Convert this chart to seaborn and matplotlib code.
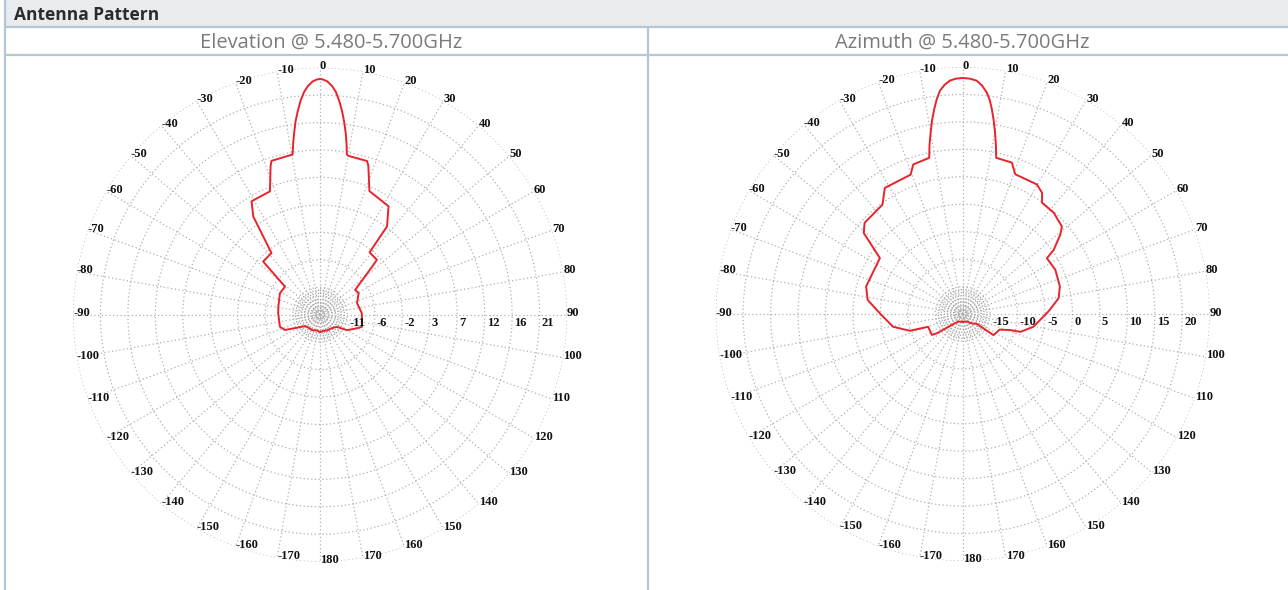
import numpy as np
import pandas as pd
import matplotlib
matplotlib.use("Agg")
import matplotlib.pyplot as plt
import matplotlib.transforms as mtransforms
from matplotlib.patches import Rectangle
from matplotlib.lines import Line2D
import seaborn as sns

sns.set_style("white")
plt.rcParams['font.family'] = ['Open Sans', 'DejaVu Sans']

# elevation pattern: angle (deg, clockwise from boresight), gain (dBi)
elev_angle = [-180, -168, -155, -143.7, -132, -127, -118, -113.6, -106.7, -88, -79, -61.9,
              -51.3, -46.9, -38.2, -34.2, -31.1, -22.1, -18.4, -17.5, -9.7, -8.9, -8.1, -7.2,
              -6.2, -5.2, -4.1, -3.0, -1.8, -0.8, 0, 0.8, 1.8, 3.0, 4.1, 5.2, 6.2, 7.2, 8.1,
              8.9, 9.5, 10.2, 17, 18, 21.8, 32.3, 37.2, 38.5,
              46, 47, 54.8, 60.8, 72.7, 88, 106, 110.7, 119.8, 125.7, 139.3, 155, 168.6, 180]
elev_gain = [-12.7, -12.9, -12.7, -12.7, -12.6, -12.4, -10.8, -9.2, -8.6, -8.6, -8.5, -8.0,
             -8.1, -2.6, -2.5, 4.2, 6.5, 6.6, 10.5, 11.3, 11.5, 13.3, 15.0, 16.9,
             18.6, 20.2, 21.6, 22.6, 23.3, 23.6, 23.7, 23.6, 23.3, 22.6, 21.6, 20.1, 18.5, 16.7, 14.9,
             13.1, 11.5, 11.3, 11.2, 10.5, 6.6, 5.8, 2.9, -2.3,
             -2.4, -3.4, -8.4, -8.2, -9.1, -8.6, -8.3, -9.1, -10.4, -12.1, -12.6, -12.7, -12.8, -12.7]

# azimuth pattern
azim_angle = [-180, -150, -140, -126.6, -124.1, -110.3, -107.6, -100.4, -89.5, -81.6, -74.1,
              -56, -50.7, -47.1, -36.3, -31.7, -20.5, -18.3, -12.1, -11.1, -10, -9.0, -7.9,
              -6.9, -5.8, -4.5, -3.1, -1.6, 0, 1.7, 3.4, 4.8, 6.2, 7.2, 8.1, 9.1, 10.1, 11.1,
              12.1, 18, 20.6, 29.8, 33.2, 35.5, 42, 48.6, 50.9, 54.8,
              56.5, 64.5, 74.2, 80.7, 88, 100.2, 107.2, 108.7, 113, 124.5, 125, 136, 150, 180]
azim_gain = [-18.6, -18.4, -17.8, -14.1, -13.2, -13.3, -9.9, -7.1, -4.9, -2.5, -1.7,
             -1.8, 3.3, 4.4, 4.7, 7.0, 7.1, 8.7, 9.1, 11.4, 13.6, 15.7, 17.7,
             19.4, 20.9, 21.9, 22.6, 22.9, 23.0, 22.9, 22.6, 21.8, 20.6, 19.3, 17.7, 15.7, 13.6, 11.4,
             9.1, 9.0, 7.2, 7.2, 6.4, 4.9, 4.8, 4.1, 2.9, 0.3,
             -1.6, -1.3, -1.6, -2.3, -4.3, -6.9, -9.0, -10.9, -12.7, -13.2, -16.9, -17.6, -18.4, -18.6]

elev_range = (-15.57, 25.57)
azim_range = (-20, 25)
elev_ring_labels = ['-11', '-6', '-2', '3', '7', '12', '16', '21']
azim_ring_labels = ['-15', '-10', '-5', '0', '5', '10', '15', '20']
angle_labels = list(range(-170, 181, 10))

W, H = 1288, 590
grid_c = '#b0b0b0'
line_c = '#e8232b'
border_c = '#b3c7d6'
label_font = ['Liberation Serif', 'DejaVu Serif']

fig = plt.figure(figsize=(W / 100, H / 100), dpi=100)


def fx(x):
    return x / W


def fy(y):
    return 1 - y / H


# header and table borders
fig.add_artist(Rectangle((fx(5), fy(26)), fx(W - 5), 26 / H, transform=fig.transFigure,
                         facecolor='#e8ecef', edgecolor='none'))
for (x0, y0, x1, y1) in [(5, 27, W, 27), (5, 55, W, 55), (5, 0, 5, H), (648, 27, 648, H)]:
    fig.add_artist(Line2D([fx(x0), fx(x1)], [fy(y0), fy(y1)], transform=fig.transFigure,
                          color=border_c, lw=1.6))
fig.text(fx(14), fy(14.5), 'Antenna Pattern', fontsize=12.5, fontweight='bold',
         color='#2b2b2b', ha='left', va='center')
fig.text(fx(331), fy(43), 'Elevation @ 5.480-5.700GHz', fontsize=14.5, color='#7b7b7b',
         ha='center', va='center')
fig.text(fx(962), fy(43), 'Azimuth @ 5.480-5.700GHz', fontsize=14.5, color='#7b7b7b',
         ha='center', va='center')


def polar_panel(cx, cy, rad, angle, gain, rng, ring_labels):
    ax = fig.add_axes([fx(cx - rad), fy(cy + rad), 2 * rad / W, 2 * rad / H], projection='polar')
    ax.set_theta_zero_location('N')
    ax.set_theta_direction(-1)
    rmin, rmax = rng
    ax.set_ylim(rmin, rmax)
    step = (rmax - rmin) / 9
    rings = [rmin + k * step for k in range(1, 10)]
    inner = [rmin + k * step / 9 for k in range(1, 9)]
    ax.set_yticks(rings)
    ax.set_yticks(inner, minor=True)
    ax.set_xticks(np.radians(np.arange(0, 360, 10)))
    ax.set_xticklabels([])
    ax.set_yticklabels([])
    ax.tick_params(length=0)
    ax.grid(True, which='major', color=grid_c, lw=0.9, ls=(0, (1, 2)))
    ax.grid(True, which='minor', axis='y', color='#a0a0a0', lw=0.9, ls=(0, (1, 1.2)))
    ax.spines['polar'].set_visible(False)
    ax.set_facecolor('none')

    df = pd.DataFrame({'theta': np.radians(angle), 'gain': gain})
    sns.lineplot(data=df, x='theta', y='gain', ax=ax, sort=False, estimator=None,
                 color=line_c, lw=1.4)
    ax.set_xlabel('')
    ax.set_ylabel('')

    for a in angle_labels:
        ax.text(np.radians(a), rmax, str(a), ha='left', va='center', fontsize=9,
                family=label_font, fontweight='bold', color='#111111', clip_on=False,
                transform=mtransforms.offset_copy(ax.transData, fig=fig, x=0, y=1.5, units='dots'))
    off = mtransforms.offset_copy(ax.transData, fig=fig, x=2, y=-2, units='dots')
    for r, lab in zip(rings[:8], ring_labels):
        ax.text(np.radians(90), r, lab, ha='left', va='top', fontsize=9,
                family=label_font, fontweight='bold', color='#111111', transform=off)
    return ax


polar_panel(320, 314.7, 247, elev_angle, elev_gain, elev_range, elev_ring_labels)
polar_panel(962.7, 314, 247, azim_angle, azim_gain, azim_range, azim_ring_labels)

fig.savefig('out.png', dpi=100)
